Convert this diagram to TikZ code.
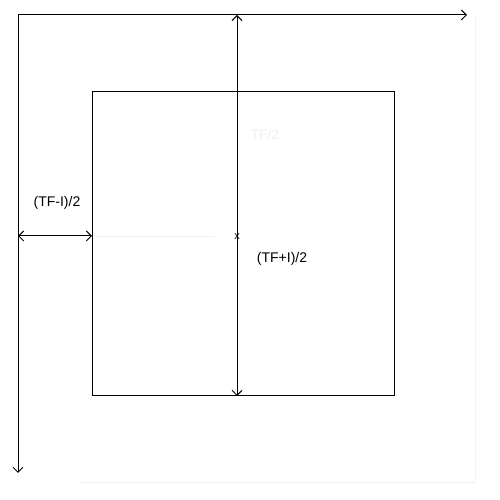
\documentclass[tikz,border=0pt]{standalone}
\usepackage{fontspec}
\setmainfont{Liberation Sans}
\usetikzlibrary{arrows.meta}
\begin{document}
\begin{tikzpicture}[x=1pt,y=1pt,
  line/.style={line width=1pt, black},
  arr/.style={line, -{Straight Barb[length=5pt,width=10pt,line width=0.9pt]}},
  dim/.style={line, {Straight Barb[length=5pt,width=10pt,line width=0.9pt]}-{Straight Barb[length=5pt,width=10pt,line width=0.9pt]}},
  lbl/.style={font=\fontsize{14}{16}\selectfont, inner sep=0pt},
  faint/.style={draw=black!5, line width=0.8pt}]
\useasboundingbox (0,0) rectangle (500,500);
% faint frame
\coordinate (fa) at (80,18);
\coordinate (fb) at (475,18);
\coordinate (fc) at (475,485);
\draw[faint] (fa) -- (fb) -- (fc);
% axes
\coordinate (O) at (18,485);
\coordinate (X) at (467,485);
\coordinate (Y) at (18,27);
\draw[arr] (O) -- (X);
\draw[arr] (O) -- (Y);
% box
\node (box) [draw, line width=1pt, minimum width=302pt, minimum height=304pt, inner sep=0pt] at (243,256) {};
% vertical dimension
\coordinate (vt) at (237,485);
\coordinate (vb) at (237,104);
\draw[dim] (vt) -- (vb);
% horizontal dimension
\coordinate (hl) at (18,264);
\coordinate (hr) at (92,264);
\draw[dim] (hl) -- (hr);
% faint line
\coordinate (fl1) at (95,264);
\coordinate (fl2) at (215,264);
\draw[draw=black!6, line width=0.8pt] (fl1) -- (fl2);
% marks and labels
\node (xm) [font=\fontsize{11}{12}\selectfont, inner sep=0pt] at (237,263) {x};
\node (l1) [lbl] at (57,297) {(TF-I)/2};
\node (l2) [lbl] at (282,241) {(TF+I)/2};
\node (l3) [lbl, text=black!6] at (265,365) {TF/2};
\end{tikzpicture}
\end{document}
